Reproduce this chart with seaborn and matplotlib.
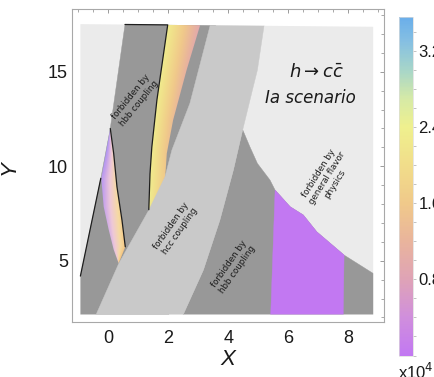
import numpy as np
import matplotlib
matplotlib.use("Agg")
import matplotlib.pyplot as plt
import seaborn as sns
from matplotlib.patches import Polygon
from matplotlib.colors import LinearSegmentedColormap, Normalize
from matplotlib.cm import ScalarMappable
from matplotlib.ticker import MultipleLocator

# ---------------- data ----------------
x_ticks = [0, 2, 4, 6, 8]
y_ticks = [5, 10, 15]
x_minor_step = 0.5
y_minor_step = 1.0
cbar_ticks = [0.8, 1.6, 2.4, 3.2]
cbar_ticklabels = ["0.8", "1.6", "2.4", "3.2"]
cbar_min, cbar_max = 0.0, 3.56
cbar_minor_step = 0.2

# colour scale (x10^4), bottom -> top
cmap_values = [0.0, 0.4, 0.8, 1.2, 1.6, 2.0, 2.4, 2.7, 3.0, 3.3, 3.56]
cmap_colors = ["#c278f2", "#d08fdc", "#dfa3b6", "#e9b49c", "#f0c98a", "#f1dd8a",
               "#eff08e", "#d6eaa6", "#a8d6c8", "#86c0e2", "#6aaeea"]

# whole scanned plane
plane_x = [-0.93, 8.83, 8.83, -0.93]
plane_y = [2.16, 2.16, 17.38, 17.52]

# forbidden by hbb coupling (left band)
hbb_left_x = [-0.93, -0.93, -0.25, 0.066, 0.575, 3.6, 2.0]
hbb_left_y = [2.0, 4.19, 9.36, 12.0, 17.7, 17.7, 2.0]

# forbidden by hcc coupling
hcc_left_x = [-0.45, 0.35, 1.35, 1.89, 2.12, 2.72, 3.39, 3.43]
hcc_left_y = [2.0, 4.86, 7.68, 9.44, 10.86, 13.33, 17.42, 17.7]
hcc_right_x = [5.24, 5.19, 4.97, 4.83, 4.48, 4.17, 3.72, 3.17, 2.5, 2.45]
hcc_right_y = [17.7, 17.42, 15.09, 14.2, 11.93, 9.80, 7.15, 4.51, 2.16, 2.0]

# forbidden by hbb coupling (right band)
hbb_right_x = [4.48, 4.72, 4.97, 5.39, 5.56, 6.06, 6.50, 6.95, 7.86, 8.9, 8.9]
hbb_right_y = [11.93, 11.03, 10.15, 9.27, 8.74, 7.86, 7.42, 6.53, 5.30, 4.26, 2.0]

# allowed region at minimum value
purple_x = [5.56, 6.06, 6.50, 6.95, 7.86, 7.83, 5.41]
purple_y = [8.74, 7.86, 7.42, 6.53, 5.30, 2.0, 2.0]
purple_value = 0.0

# allowed sliver 1 (left), edges from top down
sl1_left_x = [0.066, -0.234, -0.154, 0.012, 0.179, 0.346]
sl1_left_y = [12.0, 9.36, 7.86, 6.65, 5.59, 4.86]
sl1_right_x = [0.066, 0.179, 0.289, 0.456, 0.566, 0.346]
sl1_right_y = [12.0, 10.68, 8.91, 7.15, 5.74, 4.86]
sl1_colors = ["#9a8cf6", "#c4a0ec", "#eec8d8", "#f6daa2", "#f5c47e"]

# allowed sliver 2 (upper middle), edges from top down
sl2_left_x = [1.98, 1.62, 1.45, 1.39, 1.35]
sl2_left_y = [17.48, 13.5, 11.0, 9.6, 7.7]
sl2_right_x = [3.06, 2.61, 2.16, 1.95, 1.90, 1.60]
sl2_right_y = [17.46, 15.09, 12.44, 10.68, 9.5, 7.0]
sl2_value_left = 2.3
sl2_value_right_top = 0.9
sl2_value_right_bottom = 1.8

# black boundary lines
line_a_x = [-0.93, -0.25]
line_a_y = [4.19, 9.36]
line_b_x = [0.066, 0.179, 0.289, 0.456, 0.566]
line_b_y = [12.0, 10.68, 8.91, 7.15, 5.74]
line_c_x = [0.556, 1.98, 1.62, 1.45, 1.39, 1.35]
line_c_y = [17.50, 17.48, 13.5, 11.0, 9.6, 7.7]

# annotations
region_labels = ["forbidden by\nhbb coupling", "forbidden by\nhcc coupling",
                 "forbidden by\nhbb coupling", "forbidden by\ngeneral flavor\nphysics"]
region_label_x = [0.89, 2.24, 4.17, 7.28]
region_label_y = [13.5, 6.71, 4.68, 9.36]
region_label_rot = [51, 55, 55, 58]

# ---------------- style ----------------
sns.set_style("white")
plt.rcParams["font.family"] = ["Liberation Sans", "DejaVu Sans"]
plt.rcParams["mathtext.fontset"] = "dejavusans"

DARK = "#989898"
MID = "#c9c9c9"
LIGHT = "#ebebeb"

cmap = LinearSegmentedColormap.from_list(
    "scale", list(zip(np.array(cmap_values) / cmap_values[-1], cmap_colors)))
norm = Normalize(cbar_min, cbar_max)
sl1_cmap = LinearSegmentedColormap.from_list("sl1", sl1_colors)

fig = plt.figure(figsize=(4.34, 3.77), dpi=100)
ax = fig.add_axes([72 / 434, 1 - 322 / 377, 312 / 434, 313 / 377])

plane = Polygon(np.column_stack([plane_x, plane_y]), closed=True,
                facecolor=LIGHT, edgecolor="none", zorder=1)
ax.add_patch(plane)


def add_poly(xs, ys, color, z):
    p = Polygon(np.column_stack([xs, ys]), closed=True, facecolor=color,
                edgecolor=color, linewidth=0.3, zorder=z)
    ax.add_patch(p)
    p.set_clip_path(plane)
    return p


add_poly(hbb_left_x, hbb_left_y, DARK, 2)


def edge_interp(yy, ys, xs):
    ys = np.asarray(ys)[::-1]
    xs = np.asarray(xs)[::-1]
    return np.interp(yy, ys, xs)


def gradient(lx, ly, rx, ry, value_fn, cm, nrm, z):
    xs = np.concatenate([lx, rx[::-1]])
    ys = np.concatenate([ly, ry[::-1]])
    x0, x1 = xs.min(), xs.max()
    y0, y1 = ys.min(), ys.max()
    gx = np.linspace(x0, x1, 300)
    gy = np.linspace(y0, y1, 400)
    X, Y = np.meshgrid(gx, gy)
    xl = edge_interp(Y, ly, lx)
    xr = edge_interp(Y, ry, rx)
    t = np.clip((X - xl) / np.maximum(xr - xl, 1e-6), 0, 1)
    s = (Y - y0) / (y1 - y0)
    V = value_fn(t, s)
    im = ax.imshow(V, extent=[x0, x1, y0, y1], origin="lower", cmap=cm,
                   norm=nrm, aspect="auto", interpolation="bilinear", zorder=z)
    clip = Polygon(np.column_stack([xs, ys]), closed=True,
                   transform=ax.transData)
    im.set_clip_path(clip)


gradient(np.array(sl1_left_x), np.array(sl1_left_y),
         np.array(sl1_right_x), np.array(sl1_right_y),
         lambda t, s: np.clip(0.55 * t + 0.45 * (1 - s), 0, 1),
         sl1_cmap, Normalize(0, 1), 3)

gradient(np.array(sl2_left_x), np.array(sl2_left_y),
         np.array(sl2_right_x), np.array(sl2_right_y),
         lambda t, s: sl2_value_left - t * ((sl2_value_left - sl2_value_right_bottom)
                                            + (sl2_value_right_bottom - sl2_value_right_top) * s),
         cmap, norm, 3)

add_poly(hbb_right_x + hcc_right_x[::-1][:6], hbb_right_y + hcc_right_y[::-1][:6], DARK, 4)
add_poly(purple_x, purple_y, cmap(norm(purple_value)), 5)
add_poly(hcc_left_x + hcc_right_x, hcc_left_y + hcc_right_y, MID, 6)

for lx, ly in [(line_a_x, line_a_y), (line_b_x, line_b_y), (line_c_x, line_c_y)]:
    sns.lineplot(x=lx, y=ly, sort=False, estimator=None, color="#1e1e1e",
                 linewidth=0.9, ax=ax, zorder=7)

for txt, tx, ty, rot in zip(region_labels, region_label_x, region_label_y, region_label_rot):
    ax.text(tx, ty, txt, rotation=rot, ha="center", va="center", fontsize=6.2,
            family="DejaVu Sans", color="#1a1a1a", zorder=8,
            rotation_mode="anchor", linespacing=1.1)

ax.text(6.94, 15.0, r"$h\rightarrow c\bar{c}$", ha="center", va="center",
        fontsize=13, color="#1a1a1a", zorder=8)
ax.text(6.72, 13.6, "Ia scenario", ha="center", va="center", fontsize=12,
        style="italic", family="DejaVu Sans", color="#1a1a1a", zorder=8)

ax.set_xlim(-1.21, 9.19)
ax.set_ylim(1.76, 18.32)
ax.set_xticks(x_ticks)
ax.set_yticks(y_ticks)
ax.xaxis.set_minor_locator(MultipleLocator(x_minor_step))
ax.yaxis.set_minor_locator(MultipleLocator(y_minor_step))
ax.tick_params(which="both", direction="in", top=True, right=True,
               color="#9a9a9a", labelcolor="#1a1a1a")
ax.tick_params(which="major", length=3.2, width=0.7, labelsize=13)
ax.tick_params(axis="x", which="major", pad=6)
ax.tick_params(axis="y", which="major", pad=3)
ax.tick_params(which="minor", length=2.0, width=0.6)
for sp in ax.spines.values():
    sp.set_color("#a8a8a8")
    sp.set_linewidth(0.8)

ax.set_xlabel("X", fontsize=16, style="italic", color="#1a1a1a")
ax.set_ylabel("Y", fontsize=16, style="italic", color="#1a1a1a")
ax.xaxis.set_label_coords(0.5, -0.087)
ax.yaxis.set_label_coords(-0.168, 0.495)

# colour bar (tick labels run off the right edge, as in the reference)
cax = fig.add_axes([399 / 434, 1 - 355.5 / 377, 14 / 434, 338.5 / 377])
cb = fig.colorbar(ScalarMappable(norm=norm, cmap=cmap), cax=cax)
cb.set_ticks(cbar_ticks)
cb.set_ticklabels(cbar_ticklabels)
cb.ax.yaxis.set_minor_locator(MultipleLocator(cbar_minor_step))
cb.ax.tick_params(which="both", direction="out", color="#b8b8b8",
                  labelcolor="#1a1a1a", labelsize=12, pad=1.5)
cb.ax.tick_params(which="major", length=2.5, width=0.6)
cb.ax.tick_params(which="minor", length=2.5, width=0.6)
cb.outline.set_edgecolor("#dcdcdc")
cb.outline.set_linewidth(0.5)
fig.text(398 / 434, 1 - 372 / 377, r"x10$^4$", fontsize=12, ha="left",
         va="center", color="#1a1a1a")

fig.savefig("out.png", dpi=100)
